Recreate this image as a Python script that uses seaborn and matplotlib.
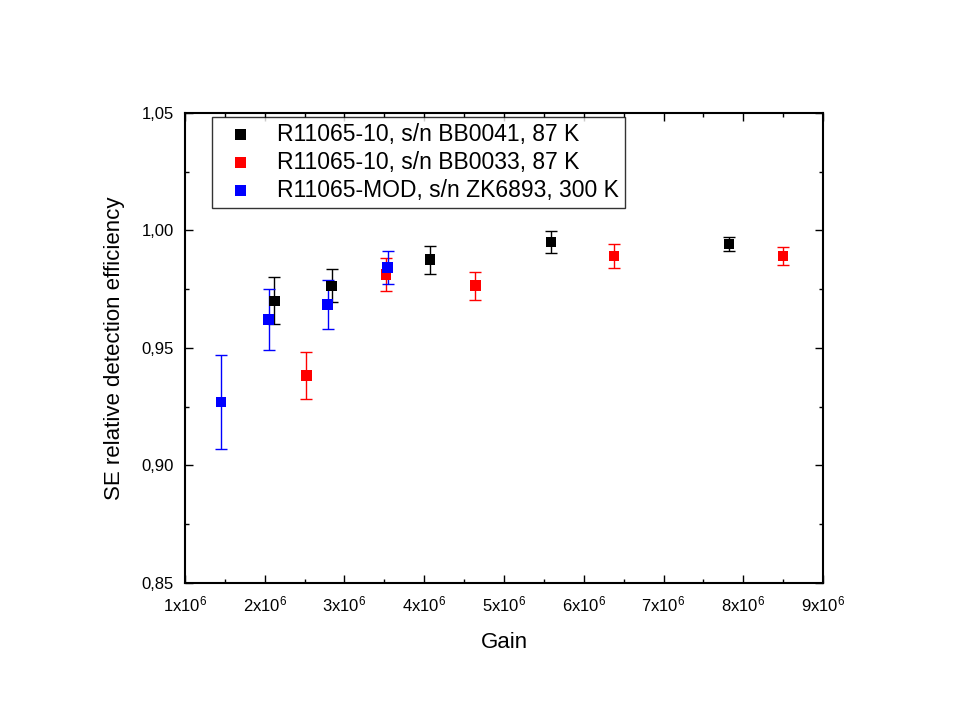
import numpy as np
import pandas as pd
import matplotlib
matplotlib.use("Agg")
import matplotlib.pyplot as plt
import seaborn as sns
from matplotlib.ticker import MultipleLocator, FixedLocator

sns.set_theme(style="white")
plt.rcParams['font.family'] = ['Liberation Sans', 'DejaVu Sans']
plt.rcParams['mathtext.fontset'] = 'custom'
plt.rcParams['mathtext.rm'] = 'Liberation Sans'
plt.rcParams['mathtext.it'] = 'Liberation Sans'
plt.rcParams['text.color'] = 'black'
plt.rcParams['axes.labelcolor'] = 'black'
plt.rcParams['xtick.color'] = 'black'
plt.rcParams['ytick.color'] = 'black'

labels = ["R11065-10, s/n BB0041, 87 K",
          "R11065-10, s/n BB0033, 87 K",
          "R11065-MOD, s/n ZK6893, 300 K"]
colors = ["#000000", "#ff0000", "#0000ff"]

gain_bb0041 = [2.12e6, 2.84e6, 4.07e6, 5.59e6, 7.82e6]
eff_bb0041 = [0.970, 0.9764, 0.9876, 0.9951, 0.9943]
err_bb0041 = [0.010, 0.007, 0.006, 0.0048, 0.003]

gain_bb0033 = [2.52e6, 3.52e6, 4.64e6, 6.38e6, 8.50e6]
eff_bb0033 = [0.9382, 0.9812, 0.9765, 0.9891, 0.9891]
err_bb0033 = [0.010, 0.007, 0.006, 0.005, 0.004]

gain_zk6893 = [1.45e6, 2.05e6, 2.79e6, 3.54e6]
eff_zk6893 = [0.927, 0.9622, 0.9684, 0.9842]
err_zk6893 = [0.020, 0.013, 0.0104, 0.007]

xticks = [1e6, 2e6, 3e6, 4e6, 5e6, 6e6, 7e6, 8e6, 9e6]
xticklabels = [r"%dx10$^{6}$" % i for i in range(1, 10)]
yticks = [0.85, 0.90, 0.95, 1.00, 1.05]
yticklabels = ["0,85", "0,90", "0,95", "1,00", "1,05"]

series = [(gain_bb0041, eff_bb0041, err_bb0041),
          (gain_bb0033, eff_bb0033, err_bb0033),
          (gain_zk6893, eff_zk6893, err_zk6893)]
frames = []
for lab, (g, e, er) in zip(labels, series):
    frames.append(pd.DataFrame({"Gain": g, "Eff": e, "Err": er, "Series": lab}))
df = pd.concat(frames, ignore_index=True)

fig = plt.figure(figsize=(9.6, 7.2), dpi=100)
ax = fig.add_axes([0.1927, 0.1903, 0.6646, 0.6528])

for lab, col in zip(labels, colors):
    sub = df[df["Series"] == lab]
    ax.errorbar(sub["Gain"], sub["Eff"], yerr=sub["Err"], fmt='none',
                ecolor=col, elinewidth=1, capsize=4.5, capthick=1, zorder=2)
    sns.scatterplot(data=sub, x="Gain", y="Eff", color=col, marker='s',
                    s=58, edgecolor='none', ax=ax, zorder=3, label=lab)

ax.set_xlim(1e6, 9e6)
ax.set_ylim(0.85, 1.05)
ax.xaxis.set_major_locator(FixedLocator(xticks))
ax.set_xticklabels(xticklabels, fontsize=12)
ax.xaxis.set_minor_locator(MultipleLocator(0.5e6))
ax.yaxis.set_major_locator(FixedLocator(yticks))
ax.set_yticklabels(yticklabels, fontsize=12)
ax.yaxis.set_minor_locator(MultipleLocator(0.025))
ax.tick_params(which='both', direction='in', top=True, right=True,
               bottom=True, left=True, color='black', width=1)
ax.tick_params(which='major', length=6, pad=8)
ax.tick_params(which='minor', length=3)
for s in ax.spines.values():
    s.set_color('black')
    s.set_linewidth(1.5)

ax.set_xlabel("Gain", fontsize=16, labelpad=13)
ax.set_ylabel("SE relative detection efficiency", fontsize=16, labelpad=12)

leg = ax.legend(loc='upper left', bbox_to_anchor=(0.042, 0.9915),
                borderaxespad=0, fontsize=16.5,
                frameon=True, fancybox=False, edgecolor='black',
                handletextpad=0.6, borderpad=0.25, labelspacing=0.22,
                markerscale=1.0)
leg.get_frame().set_linewidth(1)

fig.savefig("out.png", dpi=100)
